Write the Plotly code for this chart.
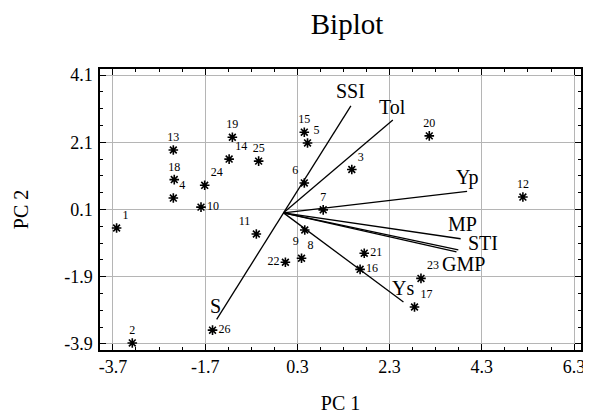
import plotly.graph_objects as go

# ---- data ----
genotypes = [str(i) for i in range(1, 27)]
pc1 = [-3.62, -3.28, 1.48, -2.39, 0.52, 0.45, 0.86, 0.39, 0.46, -1.79,
       -0.59, 5.19, -2.39, -1.18, 0.45, 1.66, 2.84, -2.37, -1.11, 3.16,
       1.75, 0.04, 2.98, -1.71, -0.54, -1.54]
pc2 = [-0.45, -3.87, 1.29, 0.44, 2.08, 0.89, 0.09, -1.35, -0.51, 0.17,
       -0.63, 0.47, 1.87, 1.60, 2.40, -1.68, -2.80, 0.99, 2.25, 2.29,
       -1.20, -1.47, -1.95, 0.82, 1.54, -3.49]

indices = ["SSI", "Tol", "Yp", "MP", "STI", "GMP", "Ys", "S"]
vec_pc1 = [1.46, 2.37, 3.98, 3.84, 3.79, 3.75, 2.60, -1.45]
vec_pc2 = [3.18, 2.76, 0.64, -0.77, -1.10, -1.16, -2.65, -3.17]

x_ticks = [-3.7, -1.7, 0.3, 2.3, 4.3, 6.3]
y_ticks = [-3.9, -1.9, 0.1, 2.1, 4.1]

# ---- styles ----
pt_pos = ["top right", "top center", "top right", "top right", "top right",
          "top left", "top center", "top right", "bottom left", "middle right",
          "top left", "top center", "top center", "top right", "top center",
          "middle right", "top right", "top center", "top center", "top center",
          "middle right", "middle left", "top right", "top right", "top center",
          "middle right"]
vec_anchor = [("center", "bottom", 0, 2), ("center", "bottom", 0, 0),
              ("center", "bottom", 0, 0), ("center", "bottom", 2, 2),
              ("left", "middle", 8, 7), ("center", "top", 7, 1),
              ("center", "bottom", 0, 1), ("center", "bottom", -1, 0)]

serif = "Liberation Serif, Times New Roman, serif"

fig = go.Figure()

for name, vx, vy in zip(indices, vec_pc1, vec_pc2):
    fig.add_trace(go.Scatter(x=[0, vx], y=[0, vy], mode="lines",
                             line=dict(color="black", width=1.3),
                             showlegend=False, hoverinfo="skip"))

fig.add_trace(go.Scatter(
    x=pc1, y=pc2, mode="markers+text", text=genotypes,
    textposition=pt_pos,
    textfont=dict(family=serif, size=12, color="black"),
    marker=dict(symbol="asterisk-open", size=8, color="black",
                line=dict(color="black", width=1.6)),
    showlegend=False))

for (name, vx, vy), (xa, ya, dx, dy) in zip(zip(indices, vec_pc1, vec_pc2), vec_anchor):
    fig.add_annotation(x=vx, y=vy, text=name, showarrow=False,
                       xanchor=xa, yanchor=ya, xshift=dx, yshift=dy,
                       font=dict(family=serif, size=20, color="black"))

axis_common = dict(
    showline=True, linecolor="black", linewidth=1.5, mirror="allticks",
    ticks="inside", ticklen=6, tickcolor="black",
    showgrid=True, gridcolor="#b5b5b5", gridwidth=1, zeroline=False,
    tickfont=dict(family=serif, size=18, color="black"),
    minor=dict(dtick=0.5, ticks="inside", ticklen=3, tickcolor="black", showgrid=False),
)

fig.update_xaxes(range=[-3.98, 6.45], tickvals=x_ticks,
                 ticktext=[f"{v:.1f}" for v in x_ticks], ticklabelstandoff=0,
                 title=dict(text="PC 1", font=dict(family=serif, size=20, color="black"), standoff=20),
                 **axis_common)
fig.update_yaxes(range=[-4.08, 4.28], tickvals=y_ticks,
                 ticktext=[f"{v:.1f}" for v in y_ticks], ticklabelstandoff=2,
                 title=dict(text="PC 2", font=dict(family=serif, size=20, color="black"), standoff=30),
                 **axis_common)
fig.update_xaxes(minor_tick0=-3.7)
fig.update_yaxes(minor_tick0=-3.9)

fig.update_layout(
    width=583, height=411,
    margin=dict(l=92, r=6, t=61, b=69),
    paper_bgcolor="white", plot_bgcolor="white",
    title=dict(text="Biplot", x=0.5815, xanchor="center", y=0.962, yref="container",
               yanchor="middle", font=dict(family=serif, size=29, color="black")),
)

fig.write_html("out.html")
